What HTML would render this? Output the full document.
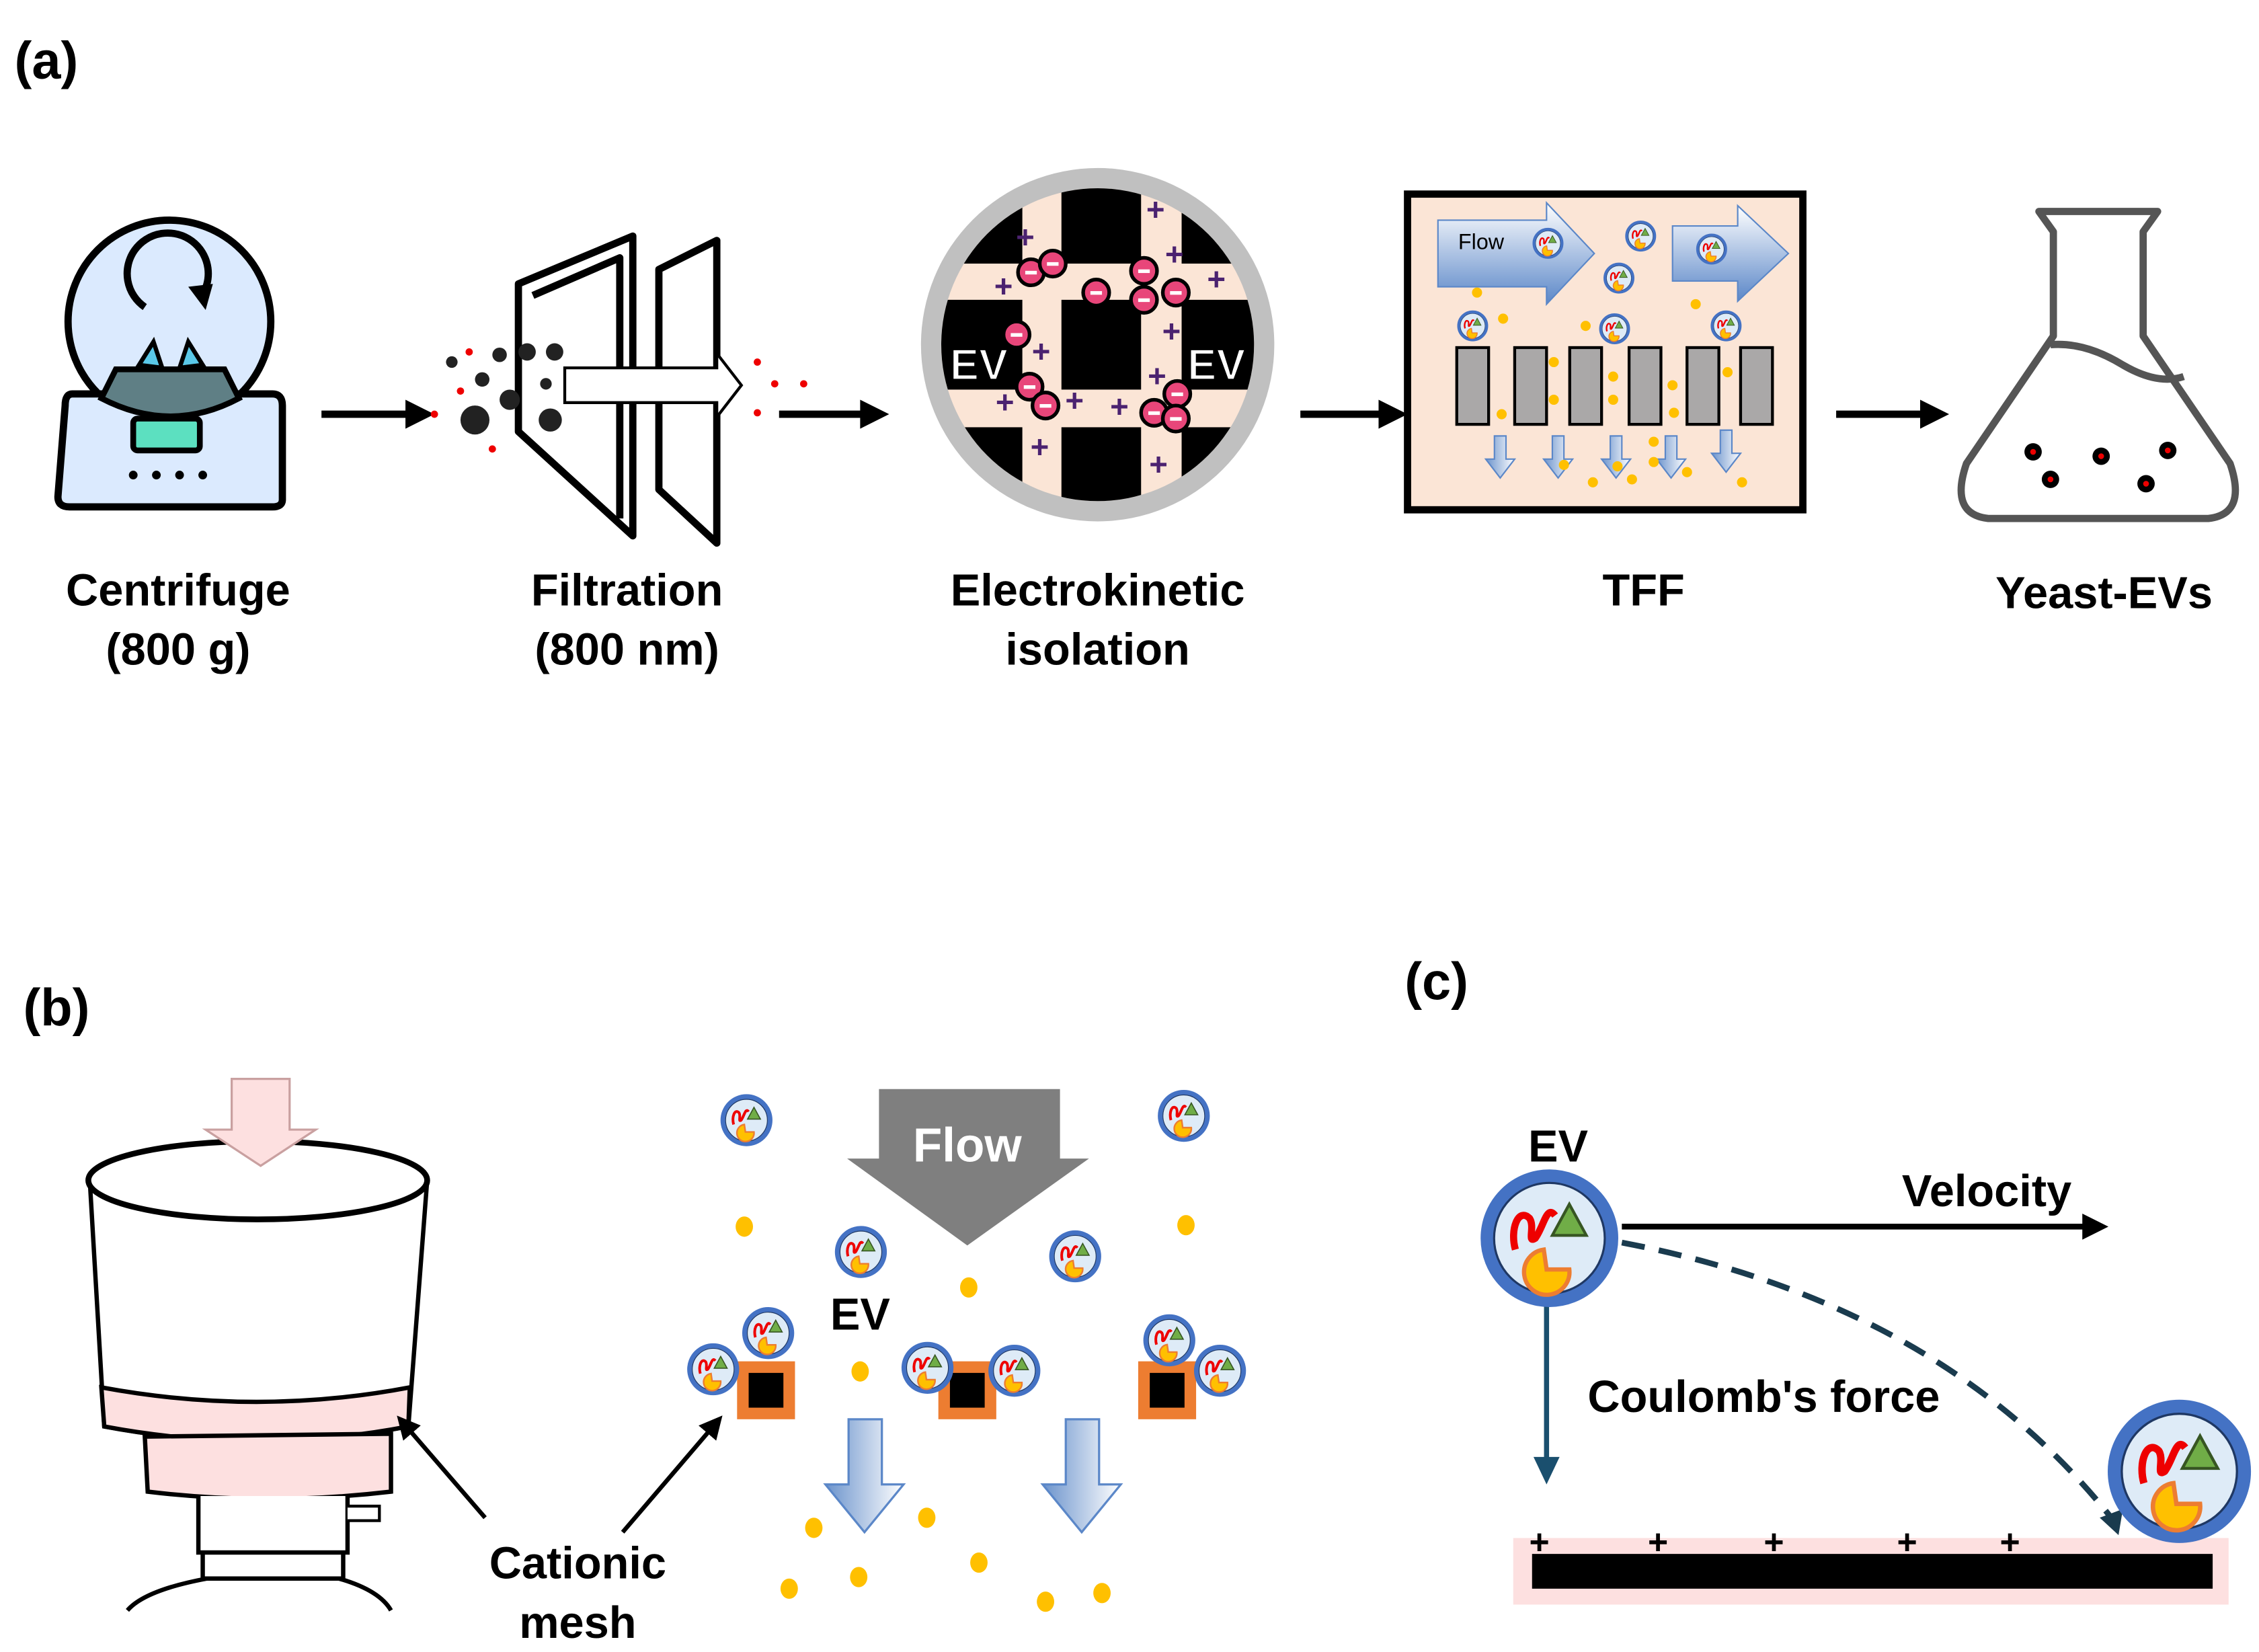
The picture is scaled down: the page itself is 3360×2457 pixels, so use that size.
<!DOCTYPE html>
<html><head><meta charset="utf-8"><style>html,body{margin:0;padding:0;background:#fff}svg{display:block}</style></head>
<body>
<svg width="3360" height="2457" viewBox="0 0 1560 1140.7" xmlns="http://www.w3.org/2000/svg" font-family="Liberation Sans, Arial, sans-serif">
<defs>
<symbol id="ev" viewBox="-50 -50 100 100">
<circle r="44" fill="#deebf7" stroke="#4472c4" stroke-width="9"/>
<circle r="39" fill="none" stroke="#1f3864" stroke-width="1.5"/>
<path d="M-24,8 C-28,-6 -22,-22 -14,-14 C-10,-8 -16,4 -10,0 C-4,-8 -2,-24 4,-16" fill="none" stroke="#e00" stroke-width="5"/>
<polygon points="2,-2 26,-2 14,-24" fill="#70ad47" stroke="#375623" stroke-width="2"/>
<path d="M-4,8 A16,16 0 1 0 14,22 L-2,22 Z" fill="#ffc000" stroke="#ed7d31" stroke-width="3"/>
</symbol>
<linearGradient id="bg1" x1="0" y1="0" x2="0" y2="1"><stop offset="0" stop-color="#fff"/><stop offset="1" stop-color="#5b87c8"/></linearGradient>
<linearGradient id="bg2" x1="0" y1="0" x2="1" y2="0"><stop offset="0" stop-color="#6b93cc"/><stop offset="1" stop-color="#fff"/></linearGradient>
<marker id="ah" markerWidth="16" markerHeight="16" refX="10" refY="8" orient="auto" markerUnits="userSpaceOnUse"><path d="M0,0 L16,8 L0,16Z"/></marker>
<clipPath id="cc"><circle cx="758" cy="238" r="108"/></clipPath>
</defs>

<!-- (a) -->
<text x="10" y="54" font-size="36" font-weight="bold">(a)</text>

<!-- centrifuge -->
<circle cx="117" cy="222" r="70" fill="#dbeafe" stroke="#000" stroke-width="5"/>
<path d="M100,212 A28,28 0 1 1 138,206" fill="none" stroke="#000" stroke-width="5"/>
<path d="M130,198 L142,214 L147,196Z" fill="#000"/>
<path d="M96,252 L106,236 L112,254Z M140,252 L130,236 L124,254Z" fill="#5ac8e8" stroke="#000" stroke-width="3"/>
<path d="M50,272 L188,272 Q195,272 195,280 L195,345 Q195,350 188,350 L48,350 Q40,350 40,343 L45,280 Q45,272 50,272Z" fill="#dbeafe" stroke="#000" stroke-width="5"/>
<path d="M70,275 L80,255 L155,255 L165,275 Q118,300 70,275Z" fill="#5f7f85" stroke="#000" stroke-width="4"/>
<rect x="92" y="289" width="46" height="22" rx="3" fill="#5ce0c0" stroke="#000" stroke-width="4"/>
<g fill="#000"><circle cx="92" cy="328" r="3"/><circle cx="108" cy="328" r="3"/><circle cx="124" cy="328" r="3"/><circle cx="140" cy="328" r="3"/></g>

<g stroke="#000" stroke-width="5"><line x1="222" y1="286" x2="284" y2="286"/><line x1="538" y1="286" x2="598" y2="286"/><line x1="898" y1="286" x2="956" y2="286"/><line x1="1268" y1="286" x2="1330" y2="286"/></g>
<g fill="#000"><path d="M280,276 L300,286 L280,296Z"/><path d="M594,276 L614,286 L594,296Z"/><path d="M952,276 L972,286 L952,296Z"/><path d="M1326,276 L1346,286 L1326,296Z"/></g>

<!-- filtration -->
<g fill="none" stroke="#000" stroke-width="5" stroke-linejoin="round">
<path d="M358,196 L437,163 L437,370 L358,298Z"/>
<path d="M368,204 L428,178 L428,358"/>
<path d="M455,186 L495,166 L495,375 L455,338Z"/>
</g>
<path d="M390,254 L495,254 L495,244 L512,266 L495,288 L495,278 L390,278Z" fill="#fff" stroke="#000" stroke-width="2"/>
<g fill="#222"><circle cx="328" cy="290" r="10"/><circle cx="352" cy="276" r="7"/><circle cx="380" cy="290" r="8"/><circle cx="333" cy="262" r="5"/><circle cx="364" cy="243" r="6"/><circle cx="383" cy="243" r="6"/><circle cx="345" cy="245" r="5"/><circle cx="312" cy="250" r="4"/><circle cx="377" cy="265" r="4"/></g>
<g fill="#e00"><circle cx="324" cy="243" r="2.5"/><circle cx="318" cy="270" r="2.5"/><circle cx="300" cy="286" r="2.5"/><circle cx="340" cy="310" r="2.5"/><circle cx="523" cy="250" r="2.5"/><circle cx="535" cy="265" r="2.5"/><circle cx="555" cy="265" r="2.5"/><circle cx="523" cy="285" r="2.5"/></g>

<!-- electrokinetic -->
<circle cx="758" cy="238" r="122" fill="#c0c0c0"/>
<circle cx="758" cy="238" r="108" fill="#fbe5d6"/>
<g clip-path="url(#cc)" fill="#000">
<rect x="630" y="120" width="76" height="62"/><rect x="733" y="120" width="55" height="62"/><rect x="816" y="120" width="76" height="62"/>
<rect x="630" y="207" width="76" height="62"/><rect x="733" y="207" width="55" height="62"/><rect x="816" y="207" width="76" height="62"/>
<rect x="630" y="295" width="76" height="62"/><rect x="733" y="295" width="55" height="62"/><rect x="816" y="295" width="76" height="62"/>
</g>
<g font-size="30" font-weight="bold" fill="#fff" stroke="#000" stroke-width="1"><text x="656" y="262">EV</text><text x="820" y="262">EV</text></g>
<g fill="#e8467a" stroke="#000" stroke-width="2.5">
<circle cx="712" cy="188" r="9"/><circle cx="727" cy="182" r="9"/><circle cx="757" cy="202" r="9"/><circle cx="790" cy="187" r="9"/><circle cx="812" cy="202" r="9"/><circle cx="790" cy="207" r="9"/><circle cx="702" cy="231" r="9"/><circle cx="711" cy="267" r="9"/><circle cx="722" cy="280" r="9"/><circle cx="813" cy="272" r="9"/><circle cx="797" cy="285" r="9"/><circle cx="812" cy="289" r="9"/>
</g>
<g fill="#fff"><rect x="708" y="187" width="8" height="2.5"/><rect x="723" y="181" width="8" height="2.5"/><rect x="753" y="201" width="8" height="2.5"/><rect x="786" y="186" width="8" height="2.5"/><rect x="808" y="201" width="8" height="2.5"/><rect x="786" y="206" width="8" height="2.5"/><rect x="698" y="230" width="8" height="2.5"/><rect x="707" y="266" width="8" height="2.5"/><rect x="718" y="279" width="8" height="2.5"/><rect x="809" y="271" width="8" height="2.5"/><rect x="793" y="284" width="8" height="2.5"/><rect x="808" y="288" width="8" height="2.5"/></g>
<g fill="#4b2270" font-size="22" font-weight="bold" text-anchor="middle">
<text x="798" y="152">+</text><text x="708" y="171">+</text><text x="693" y="205">+</text><text x="811" y="183">+</text><text x="840" y="200">+</text><text x="809" y="236">+</text><text x="719" y="250">+</text><text x="799" y="267">+</text><text x="694" y="285">+</text><text x="742" y="284">+</text><text x="773" y="288">+</text><text x="718" y="316">+</text><text x="800" y="328">+</text>
</g>

<!-- TFF -->
<rect x="972" y="134" width="273" height="218" fill="#fbe5d6" stroke="#000" stroke-width="5"/>
<path d="M993,152 L1068,152 L1068,140 L1101,175 L1068,210 L1068,198 L993,198Z" fill="url(#bg1)" stroke="#5b87c8" stroke-width="1"/>
<path d="M1155,156 L1200,156 L1200,142 L1235,175 L1200,208 L1200,194 L1155,194Z" fill="url(#bg1)" stroke="#5b87c8" stroke-width="1"/>
<text x="1007" y="172" font-size="15">Flow</text>
<g fill="#aaa8a8" stroke="#000" stroke-width="2">
<rect x="1006" y="240" width="22" height="53"/><rect x="1046" y="240" width="22" height="53"/><rect x="1084" y="240" width="22" height="53"/><rect x="1125" y="240" width="22" height="53"/><rect x="1165" y="240" width="22" height="53"/><rect x="1202" y="240" width="22" height="53"/>
</g>
<g fill="url(#bg2)" stroke="#5b87c8" stroke-width="1">
<path d="M1032,301 l8,0 l0,16 l6,0 l-10,13 l-10,-13 l6,0Z"/><path d="M1072,301 l8,0 l0,16 l6,0 l-10,13 l-10,-13 l6,0Z"/><path d="M1112,301 l8,0 l0,16 l6,0 l-10,13 l-10,-13 l6,0Z"/><path d="M1150,301 l8,0 l0,16 l6,0 l-10,13 l-10,-13 l6,0Z"/><path d="M1188,297 l8,0 l0,16 l6,0 l-10,13 l-10,-13 l6,0Z"/>
</g>
<use href="#ev" x="1058" y="157" width="22" height="22"/><use href="#ev" x="1122" y="152" width="22" height="22"/><use href="#ev" x="1107" y="181" width="22" height="22"/><use href="#ev" x="1171" y="161" width="22" height="22"/><use href="#ev" x="1006" y="214" width="22" height="22"/><use href="#ev" x="1104" y="216" width="22" height="22"/><use href="#ev" x="1181" y="214" width="22" height="22"/>
<g fill="#ffc000"><circle cx="1020" cy="202" r="3.5"/><circle cx="1038" cy="220" r="3.5"/><circle cx="1095" cy="225" r="3.5"/><circle cx="1171" cy="210" r="3.5"/><circle cx="1073" cy="250" r="3.5"/><circle cx="1073" cy="276" r="3.5"/><circle cx="1114" cy="260" r="3.5"/><circle cx="1114" cy="276" r="3.5"/><circle cx="1155" cy="266" r="3.5"/><circle cx="1156" cy="285" r="3.5"/><circle cx="1193" cy="257" r="3.5"/><circle cx="1037" cy="286" r="3.5"/><circle cx="1142" cy="305" r="3.5"/><circle cx="1080" cy="321" r="3.5"/><circle cx="1100" cy="333" r="3.5"/><circle cx="1117" cy="322" r="3.5"/><circle cx="1127" cy="331" r="3.5"/><circle cx="1142" cy="319" r="3.5"/><circle cx="1165" cy="326" r="3.5"/><circle cx="1203" cy="333" r="3.5"/></g>

<!-- flask -->
<path d="M1408,146 L1490,146 L1480,160 L1480,232 L1540,320 Q1552,355 1525,358 L1373,358 Q1346,355 1358,320 L1418,232 L1418,160Z" fill="#fff" stroke="#555" stroke-width="5" stroke-linejoin="round"/>
<path d="M1416,238 Q1440,236 1466,252 Q1490,266 1508,260" fill="none" stroke="#555" stroke-width="5"/>
<g fill="#000"><circle cx="1404" cy="312" r="6"/><circle cx="1451" cy="315" r="6"/><circle cx="1497" cy="311" r="6"/><circle cx="1416" cy="331" r="6"/><circle cx="1482" cy="334" r="6"/></g>
<g fill="#e00"><circle cx="1404" cy="312" r="2"/><circle cx="1451" cy="315" r="2"/><circle cx="1497" cy="311" r="2"/><circle cx="1416" cy="331" r="2"/><circle cx="1482" cy="334" r="2"/></g>

<g font-size="31" font-weight="bold" text-anchor="middle">
<text x="123" y="418">Centrifuge</text><text x="123" y="459">(800 g)</text>
<text x="433" y="418">Filtration</text><text x="433" y="459">(800 nm)</text>
<text x="758" y="418">Electrokinetic</text><text x="758" y="459">isolation</text>
<text x="1135" y="418">TFF</text><text x="1453" y="420">Yeast-EVs</text>
</g>

<!-- (b) -->
<text x="16" y="708" font-size="36" font-weight="bold">(b)</text>
<path d="M62,815 L72,985 Q178,1005 282,985 L295,815" fill="#fff" stroke="#000" stroke-width="3"/>
<path d="M70,958 Q178,978 283,958 L282,985 Q178,1005 72,985Z" fill="#fde0e0" stroke="#000" stroke-width="3"/>
<path d="M100,992 L270,990 L270,1030 Q185,1040 102,1030Z" fill="#fde0e0" stroke="#000" stroke-width="3"/>
<path d="M137,1033 L137,1072 L240,1072 L240,1033" fill="#fff" stroke="#000" stroke-width="3"/>
<path d="M240,1040 L262,1040 L262,1050 L240,1050" fill="#fff" stroke="#000" stroke-width="2"/>
<path d="M140,1072 L140,1090 L237,1090 L237,1072 M143,1090 Q100,1098 88,1112 M234,1090 Q262,1098 270,1112" fill="none" stroke="#000" stroke-width="3"/>
<ellipse cx="178" cy="815" rx="117" ry="27" fill="#fff" stroke="#000" stroke-width="4"/>
<path d="M160,745 L200,745 L200,780 L218,780 L180,805 L142,780 L160,780Z" fill="#fde0e0" stroke="#c9a0a0" stroke-width="1.5"/>
<g stroke="#000" stroke-width="3" marker-end="url(#ah)"><line x1="335" y1="1048" x2="278" y2="982"/><line x1="430" y1="1058" x2="495" y2="982"/></g>
<g font-size="31" font-weight="bold" text-anchor="middle"><text x="399" y="1090">Cationic</text><text x="399" y="1131">mesh</text></g>

<path d="M607,752 L732,752 L732,800 L752,800 L668,860 L585,800 L607,800Z" fill="#7f7f7f"/>
<text x="668" y="802" font-size="33" font-weight="bold" fill="#fff" text-anchor="middle">Flow</text>
<text x="594" y="918" font-size="31" font-weight="bold" text-anchor="middle">EV</text>
<g fill="#ed7d31"><rect x="509" y="940" width="40" height="40"/><rect x="648" y="940" width="40" height="40"/><rect x="786" y="940" width="40" height="40"/></g>
<g fill="#000"><rect x="517" y="948" width="24" height="24"/><rect x="656" y="948" width="24" height="24"/><rect x="794" y="948" width="24" height="24"/></g>
<g fill="url(#bg2)" stroke="#5b87c8" stroke-width="1.5">
<path d="M586,980 L609,980 L609,1025 L624,1025 L597,1058 L570,1025 L586,1025Z"/>
<path d="M736,980 L759,980 L759,1025 L774,1025 L747,1058 L720,1025 L736,1025Z"/>
</g>
<g>
<use href="#ev" x="497" y="755" width="37" height="37"/><use href="#ev" x="799" y="752" width="37" height="37"/><use href="#ev" x="576" y="846" width="37" height="37"/><use href="#ev" x="724" y="849" width="37" height="37"/><use href="#ev" x="512" y="902" width="37" height="37"/><use href="#ev" x="474" y="927" width="37" height="37"/><use href="#ev" x="622" y="926" width="37" height="37"/><use href="#ev" x="682" y="928" width="37" height="37"/><use href="#ev" x="789" y="907" width="37" height="37"/><use href="#ev" x="824" y="928" width="37" height="37"/>
</g>
<g fill="#ffc000"><ellipse cx="514" cy="847" rx="6" ry="7"/><ellipse cx="819" cy="846" rx="6" ry="7"/><ellipse cx="669" cy="889" rx="6" ry="7"/><ellipse cx="594" cy="947" rx="6" ry="7"/><ellipse cx="562" cy="1055" rx="6" ry="7"/><ellipse cx="640" cy="1048" rx="6" ry="7"/><ellipse cx="676" cy="1079" rx="6" ry="7"/><ellipse cx="593" cy="1089" rx="6" ry="7"/><ellipse cx="545" cy="1097" rx="6" ry="7"/><ellipse cx="722" cy="1106" rx="6" ry="7"/><ellipse cx="761" cy="1100" rx="6" ry="7"/></g>

<!-- (c) -->
<text x="970" y="690" font-size="36" font-weight="bold">(c)</text>
<text x="1076" y="802" font-size="31" font-weight="bold" text-anchor="middle">EV</text>
<line x1="1120" y1="847" x2="1445" y2="847" stroke="#000" stroke-width="4"/>
<path d="M1438,838 L1456,847 L1438,856Z"/>
<text x="1372" y="833" font-size="31" font-weight="bold" text-anchor="middle">Velocity</text>
<line x1="1068" y1="898" x2="1068" y2="1010" stroke="#1a4f6e" stroke-width="3.5"/>
<path d="M1059,1006 L1077,1006 L1068,1025Z" fill="#1a4f6e"/>
<text x="1218" y="975" font-size="31" font-weight="bold" text-anchor="middle">Coulomb's force</text>
<path d="M1120,858 Q1340,900 1458,1048" fill="none" stroke="#1a3b4e" stroke-width="4" stroke-dasharray="16,10"/>
<path d="M1450,1048 L1466,1042 L1463,1060Z" fill="#1a3b4e"/>
<rect x="1045" y="1062" width="494" height="46" fill="#fde0e0"/>
<rect x="1058" y="1073" width="470" height="24" fill="#000"/>
<g font-size="24" font-weight="bold" text-anchor="middle"><text x="1063" y="1073">+</text><text x="1145" y="1073">+</text><text x="1225" y="1073">+</text><text x="1317" y="1073">+</text><text x="1388" y="1073">+</text></g>
<use href="#ev" x="1021" y="806" width="98" height="98"/>
<use href="#ev" x="1454" y="965" width="102" height="102"/>
</svg>
</body></html>
